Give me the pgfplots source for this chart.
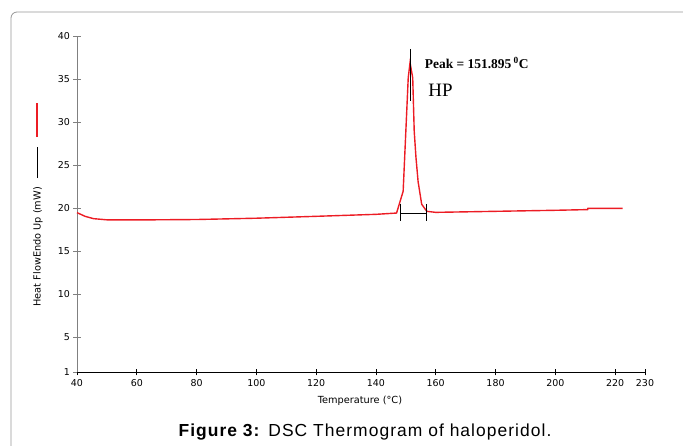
\documentclass[border=0pt]{standalone}
\usepackage{pgfplots}
\pgfplotsset{compat=1.18}
\usepackage{fontspec}
\setmainfont{DejaVu Sans}
\newfontfamily\tnr{Liberation Serif}
\newfontfamily\capfont[LetterSpace=6]{Liberation Sans}
\definecolor{dscred}{RGB}{236,28,36}
\definecolor{frame}{RGB}{150,150,150}

\begin{document}
\begin{tikzpicture}
\useasboundingbox (-77bp,-74bp) rectangle (606bp,372bp);
% frame around the figure
\draw[frame, line width=0.8pt, rounded corners=6bp] (-66bp,-80bp) -- (-66bp,360bp) -- (620bp,360bp);

\begin{axis}[
    at={(0,0)}, anchor=south west,
    scale only axis,
    width=568bp, height=336bp,
    xmin=40, xmax=230,
    ymin=1, ymax=40,
    xtick={40,60,80,100,120,140,160,180,200,220,230},
    ytick={1,5,10,15,20,25,30,35,40},
    axis x line*=bottom,
    axis y line*=left,
    x axis line style={black, line width=0.7pt},
    y axis line style={gray, line width=0.8pt},
    tick align=center,
    major tick length=7bp,
    x tick style={black, line width=0.6pt},
    y tick style={gray, line width=0.6pt},
    tick label style={font=\fontsize{9.5}{10}\selectfont},
    /pgf/number format/assume math mode=true,
    clip=false,
]

% DSC curve
\addplot[dscred, line width=1.4pt] coordinates {
(40,19.5) (42.7,19.07) (45.5,18.8) (50.4,18.65) (60,18.65) (80,18.7)
(100,18.85) (120,19.07) (140,19.3) (146.9,19.45)
(149.1,21.98) (150.0,28.95) (150.8,35.15) (151.4,36.9)
(152.3,35.15) (152.8,28.95) (153.4,25.85) (154.1,23.1) (155.3,20.47) (157.0,19.65)
(160,19.53) (180,19.65) (200,19.77) (210.8,19.85) (210.9,20.0) (222.5,20.0)
};

% peak marker
\addplot[black, line width=0.6pt] coordinates {(151.6,38.5) (151.6,32.5)};
% integration limits
\addplot[black, line width=0.9pt] coordinates {(148.2,19.45) (157.0,19.45)};
\addplot[black, line width=0.6pt] coordinates {(148.2,20.5) (148.2,18.5)};
\addplot[black, line width=0.6pt] coordinates {(157.0,20.5) (157.0,18.5)};

\node[anchor=west, inner sep=0pt, font=\tnr\bfseries\fontsize{13.5}{14}\selectfont] at (axis cs:156.3,36.9) {Peak = 151.895\,\textsuperscript{0}C};
\node[anchor=west, inner sep=0pt, font=\tnr\fontsize{19}{20}\selectfont] at (axis cs:157.5,33.7) {HP};
\end{axis}

% axis labels
\node[font=\fontsize{9.8}{10}\selectfont] at (283bp,-29bp) {Temperature (°C)};
\node[rotate=90, anchor=west, font=\fontsize{9.8}{10}\selectfont] at (-39bp,62bp)
  {Heat FlowEndo Up (mW)\hspace{9bp}\textcolor{black}{\rule[0.6ex]{31bp}{0.6bp}}\hspace{10bp}\textcolor{dscred}{\rule[0.5ex]{34bp}{1.6bp}}};
% caption
\node[font=\capfont\fontsize{17.5}{18}\selectfont] at (288bp,-60bp) {\textbf{Figure 3:} DSC Thermogram of haloperidol.};
\end{tikzpicture}
\end{document}
